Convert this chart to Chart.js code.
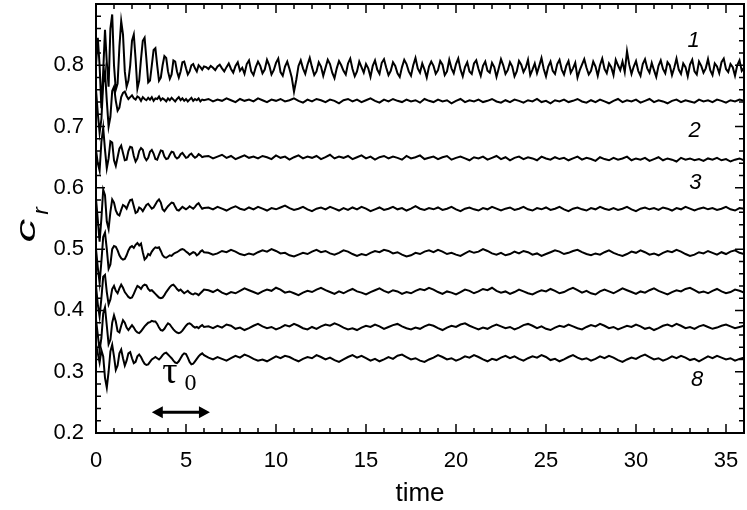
<!DOCTYPE html>
<html>
<head>
<meta charset="utf-8">
<script src="https://cdn.jsdelivr.net/npm/chart.js@4.4.0/dist/chart.umd.min.js"></script>
<style>
  html, body { margin: 0; padding: 0; background: #fff; }
</style>
</head>
<body>
<canvas id="myChart" width="747" height="510"></canvas>
<script>
// sample times: 0..6 every 0.1, then every 0.25 up to 36 (curve 1 is sampled every 0.125 after t = 6)
const time = [];
for (let i = 0; i <= 60; i++) time.push(i / 10);
for (let i = 1; i <= 120; i++) time.push(6 + i / 4);
const time1 = [];
for (let i = 0; i <= 60; i++) time1.push(i / 10);
for (let i = 1; i <= 240; i++) time1.push(6 + i / 8);

// c_r values, in thousandths (curve 1 = top ... curve 8 = bottom)
const c1 = [
  800,845,800,730,790,858,805,765,860,883,
  800,760,770,830,872,850,790,765,775,800,
  840,850,810,762,775,810,840,845,810,772,
  775,800,825,828,800,775,780,800,815,812,
  790,778,785,808,806,790,780,790,805,806,
  795,785,790,800,802,795,790,800,797,793,
  798,
  797,794,799,796,792,798,801,795,790,797,
  803,794,788,799,805,791,796,786,802,808,
  790,784,797,806,799,787,793,809,800,785,
  792,804,811,789,783,798,806,794,780,757,
  776,799,808,795,786,801,812,797,784,790,
  805,798,783,796,809,802,788,779,795,807,
  800,791,785,803,811,794,782,790,806,797,
  788,802,795,781,799,808,793,786,804,810,
  796,784,791,805,799,787,781,797,809,802,
  790,783,800,812,795,788,803,793,780,798,
  806,799,786,792,807,801,784,790,809,795,
  787,802,811,793,782,797,805,790,786,803,
  808,794,783,799,806,791,788,804,797,781,
  795,810,800,786,792,805,798,782,790,807,
  801,789,796,809,784,793,803,787,799,812,
  794,782,798,806,791,786,802,809,793,785,
  799,807,788,795,804,780,792,801,810,796,
  785,791,806,798,783,800,811,794,787,803,
  797,784,809,800,792,806,789,823,801,786,
  798,807,791,783,802,810,795,788,804,792,
  781,799,808,794,787,805,800,784,796,811,
  793,786,803,797,782,801,809,790,785,806,
  799,788,795,810,792,784,803,798,787,805,
  811,794,789,802,797,783,800,808,791,796
];
const c2 = [
  760,722,690,712,770,790,742,700,716,758,
  765,742,726,731,748,755,757,750,745,748,
  751,746,744,749,747,742,748,745,743,747,
  744,748,742,746,745,749,743,746,744,741,
  746,743,747,744,741,745,748,743,746,742,
  745,741,744,747,742,745,743,746,741,744,
  743,
  745,741,744,742,746,743,740,745,742,744,
  741,746,743,740,744,742,745,741,743,746,
  742,739,744,741,745,743,740,744,742,738,
  743,745,741,744,740,743,746,742,739,744,
  741,745,742,740,744,741,743,739,745,742,
  740,744,741,743,738,742,745,740,743,741,
  744,740,742,745,741,739,743,740,744,742,
  739,743,741,745,740,742,738,743,741,744,
  740,742,745,741,739,743,740,744,741,738,
  742,745,740,743,741,744,739,742,745,740,
  743,741,738,742,744,740,743,741,739,744,
  741,743,740,744,742,739,743,741,744,742
];
const c3 = [
  662,640,628,675,698,662,632,648,676,674,
  645,636,650,664,669,657,645,646,660,667,
  666,652,643,648,660,665,662,650,645,649,
  659,662,656,647,646,654,661,660,651,647,
  648,654,659,658,651,648,650,655,657,653,
  649,650,654,656,652,649,651,655,653,650,
  651,
  652,648,651,654,649,652,647,650,653,649,
  651,648,652,650,647,653,649,651,646,650,
  653,648,651,649,652,647,650,654,648,651,
  649,652,647,650,653,648,651,646,650,652,
  648,651,649,646,652,648,650,653,647,649,
  651,647,650,652,646,649,651,648,645,650,
  648,651,646,649,652,647,650,645,649,651,
  647,650,648,645,651,648,646,650,647,649,
  645,648,651,646,649,647,644,650,647,645,
  649,646,648,651,645,648,646,649,644,647,
  650,645,648,646,643,649,646,648,645,647,
  644,648,646,649,645,647,643,646,648,645
];
const c4 = [
  582,548,512,550,597,588,545,533,561,581,
  576,563,557,555,564,572,570,566,574,580,
  581,570,559,561,568,566,562,567,572,574,
  570,566,568,573,578,581,576,565,562,566,
  570,573,576,575,569,564,563,566,569,567,
  565,567,570,568,566,569,573,575,570,566,
  567,
  568,565,569,566,563,567,570,566,564,568,
  565,569,566,563,567,565,568,571,567,564,
  566,569,565,562,566,568,565,569,566,563,
  567,564,568,565,569,566,562,565,568,564,
  566,569,565,567,563,566,570,566,564,567,
  565,568,564,566,569,565,562,566,568,565,
  563,567,565,569,566,563,566,568,564,566,
  569,565,563,567,565,568,564,566,569,565,
  562,566,568,565,563,567,565,569,566,564,
  567,564,566,569,565,562,566,568,565,567,
  564,568,566,563,567,565,569,566,563,566,
  568,565,567,564,566,569,565,563,567,566
];
const c5 = [
  500,470,445,480,520,527,500,468,475,500,
  505,504,498,490,485,483,484,490,498,503,
  505,502,507,510,506,509,495,483,486,492,
  490,496,500,503,502,503,497,490,487,486,
  488,490,489,492,494,495,497,499,500,499,
  496,494,491,493,495,494,490,492,496,498,
  495,
  494,491,493,497,495,499,496,492,490,493,
  491,495,498,496,500,497,493,494,490,488,
  491,494,492,496,499,495,497,493,491,494,
  498,496,492,489,492,490,494,497,495,499,
  497,493,495,491,488,490,494,492,496,498,
  495,499,496,492,494,491,489,493,497,494,
  496,500,497,493,491,494,490,492,496,493,
  497,495,491,493,489,492,495,498,496,492,
  494,497,499,495,492,490,493,491,495,498,
  494,491,489,492,496,494,498,495,491,493,
  490,494,497,495,499,496,492,489,491,495,
  493,497,494,491,495,492,496,498,494,492
];
const c6 = [
  440,410,390,420,455,458,430,410,418,435,
  440,432,428,436,442,437,430,426,422,420,
  421,427,434,440,438,435,440,442,441,435,
  432,433,430,427,424,421,420,421,425,430,
  434,438,441,442,439,435,432,434,431,428,
  430,432,429,427,426,428,427,425,428,431,
  434,
  433,430,434,429,426,430,428,432,436,433,
  430,427,431,434,432,437,434,429,431,428,
  425,429,432,430,434,437,433,430,427,431,
  428,432,435,431,429,426,430,433,436,432,
  429,433,431,427,430,428,432,435,433,437,
  434,430,427,431,429,426,430,434,432,428,
  431,435,433,437,432,429,431,427,430,434,
  431,428,426,430,433,431,435,432,428,430,
  434,437,433,429,432,428,426,431,434,431,
  428,432,436,433,430,427,431,429,433,436,
  432,429,426,430,433,431,435,437,433,429,
  431,428,432,435,431,428,430,434,432,429
];
const c7 = [
  385,360,335,355,395,405,375,345,352,380,
  392,382,366,364,375,384,380,372,368,372,
  376,372,367,364,363,366,370,374,377,380,
  381,383,382,382,378,372,368,367,370,375,
  379,377,373,369,366,364,363,364,367,371,
  375,378,379,377,374,372,373,371,374,376,
  373,
  374,371,375,372,377,375,370,372,368,371,
  375,378,374,371,373,369,372,376,374,378,
  375,371,369,373,370,374,377,375,379,376,
  372,369,371,368,372,375,373,377,374,370,
  373,376,378,374,371,369,372,370,374,377,
  375,371,368,372,375,373,377,379,375,372,
  369,372,370,374,377,374,371,373,369,372,
  376,378,375,371,374,370,368,372,375,373,
  377,374,371,369,373,376,374,378,375,371,
  373,369,372,375,373,377,374,370,372,368,
  371,375,377,374,378,375,371,373,370,374,
  376,373,370,372,375,377,374,371,373,375
];
const c8 = [
  345,330,315,335,325,290,274,300,333,344,
  325,303,310,330,336,322,310,318,330,332,
  322,314,316,325,328,324,318,313,311,312,
  316,320,322,324,322,320,323,327,330,331,
  328,325,322,318,315,314,317,322,327,330,
  329,323,316,312,313,317,321,325,328,330,
  327,
  323,320,324,321,318,322,326,323,328,325,
  321,318,320,317,321,325,322,326,324,320,
  317,321,324,322,327,324,320,323,319,316,
  320,324,327,323,326,322,318,321,317,320,
  324,321,326,328,324,320,322,318,316,320,
  323,327,324,320,322,318,321,325,323,327,
  324,320,317,321,319,323,326,322,325,321,
  318,322,325,323,327,324,319,321,317,320,
  324,327,323,320,322,318,321,325,322,326,
  323,319,316,320,323,321,325,328,324,320,
  322,318,321,325,322,326,323,319,321,317,
  321,325,322,326,323,320,322,318,321,323
];
const series = [c1, c2, c3, c4, c5, c6, c7, c8];
const seriesTime = [time1, time, time, time, time, time, time, time];

// curve numbers written next to the curves
const labelText = ['1', '2', '3', '8'];
const labelTime = [33.2, 33.25, 33.3, 33.4];
const labelLevel = [0.840, 0.693, 0.608, 0.287];

// tau_0 arrow and its label
const tauStart = 3.1;
const tauEnd = 6.33;
const tauLevel = 0.234;
const tauTime = 4.1;
const tauTextLevel = 0.298;
const tauSubTime = 5.25;
const tauSubLevel = 0.280;

const FONT = "'Liberation Sans', Arial, sans-serif";
const SERIF = "'Liberation Serif', 'DejaVu Serif', serif";

const decorations = {
  id: 'decorations',
  afterDatasetsDraw(chart) {
    const { ctx, chartArea: a, scales: { x, y } } = chart;
    ctx.save();
    ctx.strokeStyle = '#000';
    ctx.fillStyle = '#000';

    // frame
    ctx.lineWidth = 2;
    ctx.strokeRect(a.left, a.top, a.right - a.left, a.bottom - a.top);

    // inward ticks on all four sides
    ctx.lineWidth = 1.5;
    ctx.beginPath();
    for (let t = 0; t <= 36; t++) {
      const px = x.getPixelForValue(t);
      const len = t % 5 === 0 ? 9 : 5;
      ctx.moveTo(px, a.bottom); ctx.lineTo(px, a.bottom - len);
      ctx.moveTo(px, a.top); ctx.lineTo(px, a.top + len);
    }
    for (let k = 10; k <= 45; k++) {
      const py = y.getPixelForValue(k * 0.02);
      const len = k % 5 === 0 ? 9 : 5;
      ctx.moveTo(a.left, py); ctx.lineTo(a.left + len, py);
      ctx.moveTo(a.right, py); ctx.lineTo(a.right - len, py);
    }
    ctx.stroke();

    // curve numbers
    ctx.font = 'italic 22px ' + FONT;
    ctx.textAlign = 'center';
    ctx.textBaseline = 'middle';
    labelText.forEach((s, i) => {
      ctx.fillText(s, x.getPixelForValue(labelTime[i]), y.getPixelForValue(labelLevel[i]));
    });

    // tau_0 arrow
    const x0 = x.getPixelForValue(tauStart);
    const x1 = x.getPixelForValue(tauEnd);
    const ya = y.getPixelForValue(tauLevel);
    ctx.lineWidth = 3;
    ctx.beginPath();
    ctx.moveTo(x0 + 8, ya); ctx.lineTo(x1 - 8, ya);
    ctx.stroke();
    ctx.beginPath();
    ctx.moveTo(x0, ya); ctx.lineTo(x0 + 11, ya - 6); ctx.lineTo(x0 + 11, ya + 6); ctx.closePath();
    ctx.moveTo(x1, ya); ctx.lineTo(x1 - 11, ya - 6); ctx.lineTo(x1 - 11, ya + 6); ctx.closePath();
    ctx.fill();

    ctx.font = '38px ' + SERIF;
    ctx.fillText('\u03C4', x.getPixelForValue(tauTime), y.getPixelForValue(tauTextLevel));
    ctx.font = '24px ' + SERIF;
    ctx.fillText('0', x.getPixelForValue(tauSubTime), y.getPixelForValue(tauSubLevel));

    // x axis title
    ctx.font = '26px ' + FONT;
    ctx.fillText('time', (a.left + a.right) / 2, a.bottom + 61);

    // y axis title c_r (the c is drawn wide, as in the original)
    ctx.translate(35, (a.top + a.bottom) / 2 + 24);
    ctx.rotate(-Math.PI / 2);
    ctx.textAlign = 'left';
    ctx.textBaseline = 'alphabetic';
    ctx.save();
    ctx.scale(1.7, 1);
    ctx.font = 'italic 28px ' + FONT;
    ctx.fillText('c', 0, 0);
    ctx.restore();
    ctx.font = 'italic 22px ' + FONT;
    ctx.fillText('r', 28, 13);
    ctx.restore();
  }
};

const ctx = document.getElementById('myChart').getContext('2d');
new Chart(ctx, {
  type: 'line',
  data: {
    datasets: series.map((s, j) => ({
      data: s.map((v, i) => ({ x: seriesTime[j][i], y: v / 1000 })),
      borderColor: '#000',
      borderWidth: 2,
      pointRadius: 0,
      tension: 0,
      fill: false
    }))
  },
  options: {
    responsive: false,
    animation: false,
    layout: { padding: { left: 0, top: 4, right: 3, bottom: 0 } },
    plugins: { legend: { display: false }, tooltip: { enabled: false } },
    scales: {
      x: {
        type: 'linear',
        min: 0,
        max: 36,
        afterFit: s => { s.height = 77; s.paddingLeft = 0; s.paddingRight = 0; },
        grid: { display: false, drawTicks: false },
        border: { display: false },
        ticks: {
          stepSize: 5,
          includeBounds: false,
          padding: 15,
          color: '#000',
          font: { family: FONT, size: 22 }
        }
      },
      y: {
        min: 0.2,
        max: 0.9,
        afterFit: s => { s.width = 96; s.paddingTop = 0; s.paddingBottom = 0; },
        grid: { display: false, drawTicks: false },
        border: { display: false },
        ticks: {
          stepSize: 0.1,
          padding: 12,
          color: '#000',
          font: { family: FONT, size: 22 },
          callback: v => (v > 0.85 ? '' : v.toFixed(1))
        }
      }
    }
  },
  plugins: [decorations]
});
</script>
</body>
</html>
